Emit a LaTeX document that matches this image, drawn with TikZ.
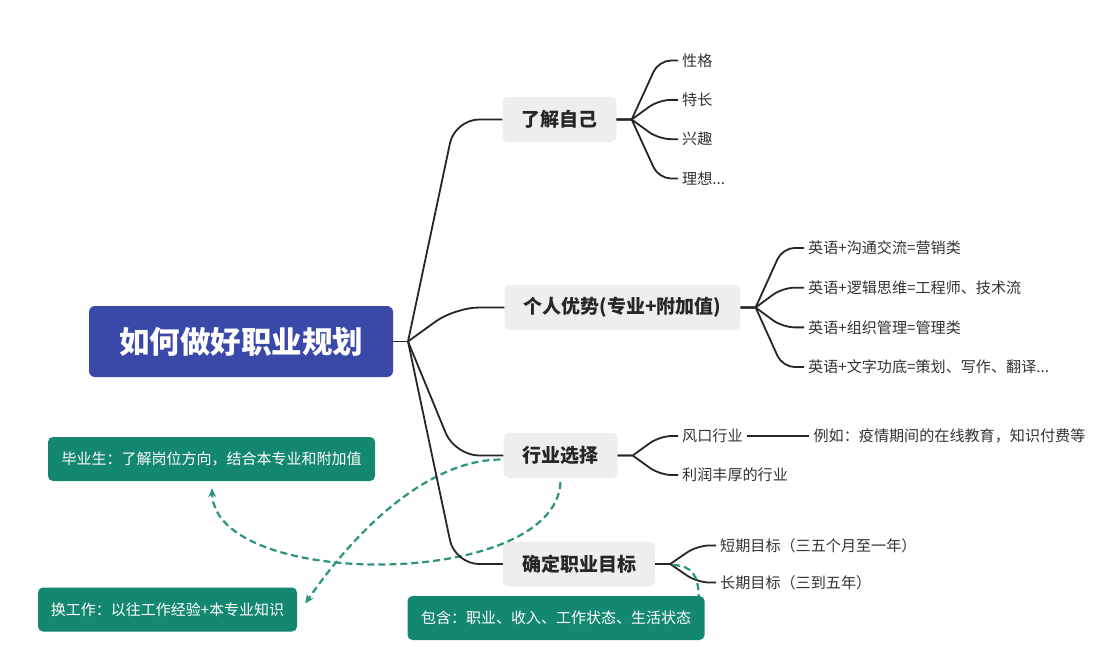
\documentclass[tikz,border=0pt]{standalone}
\usepackage{fontspec}
\setmainfont{Noto Sans CJK SC}
\usetikzlibrary{arrows.meta,calc}
\definecolor{titleblue}{HTML}{3A48A8}
\definecolor{notegreen}{HTML}{148770}
\definecolor{boxgray}{HTML}{EEEEEE}
\definecolor{leafgray}{HTML}{333333}
\tikzset{
  topic/.style={rectangle, rounded corners=6pt, fill=titleblue, text=white,
    font=\fontsize{30.5}{36}\selectfont\bfseries, minimum width=304pt, minimum height=71pt},
  branch/.style={rectangle, rounded corners=5pt, fill=boxgray, text=black!85,
    font=\fontsize{19}{23}\selectfont\bfseries, minimum height=45pt, inner xsep=19pt},
  leaf/.style={anchor=west, inner xsep=4pt, text=leafgray, font=\fontsize{15.1}{18}\selectfont},
  note/.style={rectangle, rounded corners=5pt, fill=notegreen, text=white,
    font=\fontsize{15}{18}\selectfont, minimum height=44pt},
  link/.style={draw=black!85, line width=1.8pt},
  hint/.style={draw=notegreen!90, line width=2.2pt, dash pattern=on 7pt off 4pt},
  fan/.style={grow'=right, every child node/.style={leaf},
    edge from parent/.style={link, rounded corners=12pt},
    edge from parent path={let \p1=(\tikzparentnode.east), \p2=(\tikzchildnode.west) in
      (\p1) -- (\x1+15pt,\y1) (\x1+15pt,\y1) -- (\x1+42pt,\y2) -- (\p2)}}
}
\begin{document}
\begin{tikzpicture}[x=1pt, y=-1pt]
  \fill[white] (0,0) rectangle (1108,664);
  \useasboundingbox (0,0) rectangle (1108,664);

  \node[topic] (root) at (241,341.5) {如何做好职业规划};

  % branches with their leaves
  \node[branch] (b1) at (559.5,119.5) {了解自己}
    [fan, level distance=118.5pt, sibling distance=39.3pt]
    child {node (b1a) {性格}}
    child {node (b1b) {特长}}
    child {node (b1c) {兴趣}}
    child {node (b1d) {理想...}};
  \node[branch] (b2) at (622.5,307.5) {个人优势(专业+附加值)}
    [fan, level distance=181.5pt, sibling distance=39.7pt]
    child {node (b2a) {英语+沟通交流=营销类}}
    child {node (b2b) {英语+逻辑思维=工程师、技术流}}
    child {node (b2c) {英语+组织管理=管理类}}
    child {node (b2d) {英语+文字功底=策划、写作、翻译...}};
  \node[branch] (b3) at (560.5,455.5) {行业选择}
    [fan, level distance=117.5pt, sibling distance=39pt]
    child {node (b3a) {风口行业}
      child [level distance=97pt,
        edge from parent path={(\tikzparentnode.east) -- (\tikzchildnode.west)}]
        {node (b3c) {例如：疫情期间的在线教育，知识付费等}}}
    child {node (b3b) {利润丰厚的行业}};
  \node[branch] (b4) at (579,564) {确定职业目标}
    [fan, level distance=137pt, sibling distance=37pt]
    child {node (b4a) {短期目标（三五个月至一年）}}
    child {node (b4b) {长期目标（三到五年）}};

  % green notes
  \node[note, minimum width=327pt] (n1) at (211.5,459) {毕业生：了解岗位方向，结合本专业和附加值};
  \node[note, minimum width=259pt] (n2) at (167.5,609.5) {换工作：以往工作经验+本专业知识};
  \node[note, minimum width=297pt] (n3) at (556,618) {包含：职业、收入、工作状态、生活状态};

  % dashed hints
  \draw[hint, -{Stealth[length=9pt,width=8pt]}] ($(b3.south)+(0,4)$)
    .. controls (555,590) and (215,590) .. ($(n1.south)+(0.5,7)$);
  \draw[hint, -{Stealth[length=9pt,width=8pt]}] ($(b3.west)+(-3,4)$)
    .. controls (440,460) and (370,510) .. ($(n2.east)+(8,-6)$);
  \draw[hint] ($(b4.east)+(18,1)$)
    .. controls (692,566) and (698,575) .. ($(n3.north east)+(-6,0)$);

  % root connectors
  \coordinate (rj) at (408,341.5);
  \coordinate (rk) at (455,341.5);
  \draw[link] (root.east) -- (rj);
  \foreach \b in {b1,b2,b3,b4}
    \draw[link, rounded corners=24pt] (rj) -- (rk |- \b) -- (\b.west);
\end{tikzpicture}
\end{document}
